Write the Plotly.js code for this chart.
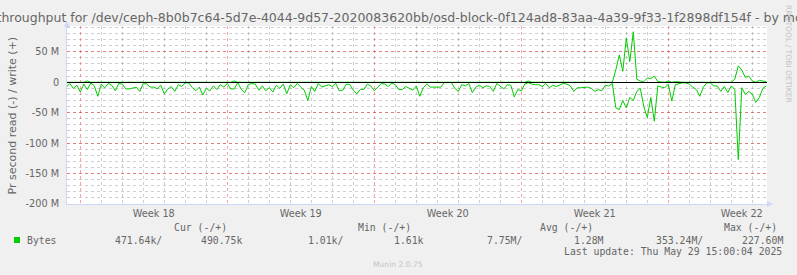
<!DOCTYPE html>
<html><head><meta charset="utf-8">
<script src="https://cdn.plot.ly/plotly-3.0.1.min.js"></script>
<style>html,body{margin:0;padding:0;background:#f0f0f0;}#chart{width:797px;height:275px;}</style>
</head><body><div id="chart"></div>
<script>
// ---- data (values in M bytes / second) ----
const startTime = Date.UTC(2025, 3, 26, 8, 0, 0);   // first sample
const stepHours = 4;
const readM = [
  8,2,10,5,16,3,12,1,6,23,
  3,9,2,5,14,2,3,11,11,9,
  8,15,2,3,8,8,11,5,19,11,
  7,15,4,7,1,1,9,14,8,21,
  10,14,6,12,4,8,2,11,11,0.5,
  12,17,4,2,3,13,6,14,9,16,
  5,10,3,19,4,9,2,8,
  13,30,7,15,2,8,6,4,7,2,
  14,13,3,4,13,19,12,12,3,6,
  14,8,2,3,7,1,4,12,12,7,
  10,13,6,23,9,3,8,8,8,8,
  0.5,0.5,0.5,10,15,4,6,2,17,8,
  5,9,6,7,15,2,6,11,4,5,
  24,12,14,3,0.5,3,
  4,4,7,2,9,5,7,4,2,3,
  6,15,9,9,9,8,10,15,12,14,
  5,6,2,42,45,30,42,25,30,15,
  10,40,58,25,64,6,8,9,3,31,
  4,2,1,1,3,8,12,23,8,1,
  1,6,6,15,7,17,6,12,127,9,
  20,15,20,33,25,10,6
];
const writeM = [
  0,0,0,0,0,0,2,0,0,0,
  0,0,0,0,0,0,0,0,0,0,
  0,0,0,0,0,0,0,0,0,0,
  0,0,0,0,0,0,0,0,0,0,
  0,0,0,0,0,0,0,0,2,0,
  0,0,0,0,0,0,0,0,0,0,
  0,0,0,0,0,0,0,0,
  0,0,0,0,0,0,0,0,0,0,
  0,0,0,0,0,0,0,0,0,0,
  0,0,0,0,0,0,0,0,0,0,
  0,0,0,0,0,0,0,0,0,0,
  0,0,0,0,0,0,0,0,0,0,
  0,0,0,0,0,0,0,0,0,0,
  0,0,0,0,2,0,
  0,0,0,0,0,0,0,0,0,0,
  0,0,0,0,0,0,0,0,0,0,
  0,0,0,20,45,18,73,34,83,5,
  2,1,7,6,10,1,0,0,2,0,
  1,0,0,0,0,0,0,0,0,0,
  0,0,0,0,0,0,0,5,27,20,
  8,10,2,0,3,2,1
];
const yTickVals = [50, 0, -50, -100, -150, -200];
const yTickText = ['50 M', '0', '-50 M', '-100 M', '-150 M', '-200 M'];
const weekMid = ['2025-04-30 12:00', '2025-05-07 12:00', '2025-05-14 12:00', '2025-05-21 12:00', '2025-05-28 12:00'];
const weekLabels = ['Week 18', 'Week 19', 'Week 20', 'Week 21', 'Week 22'];
const seriesName = 'Bytes';
const legendHead = ['Cur (-/+)', 'Min (-/+)', 'Avg (-/+)', 'Max (-/+)'];
const legendRead = ['471.64k/', '1.01k/', '7.75M/', '353.24M/'];
const legendWrite = ['490.75k', '1.61k', '1.28M', '227.60M'];
const lastUpdate = 'Last update: Thu May 29 15:00:04 2025';
const titleText = 'Disk throughput for /dev/ceph-8b0b7c64-5d7e-4044-9d57-2020083620bb/osd-block-0f124ad8-83aa-4a39-9f33-1f2898df154f - by month';
const yTitle = 'Pr second read (-) / write (+)';

// ---- derived ----
function iso(ms){ return new Date(ms).toISOString().slice(0,16).replace('T',' '); }
const times = readM.map((_, i) => iso(startTime + i*stepHours*3600000));
const readNeg = readM.map(v => -v);
const xRange = ['2025-04-26 08:48', '2025-05-29 16:48'];

// ---- layout geometry (pixels) ----
const L = 67, T = 26, W = 700, H = 178, FW = 797, FH = 275;
const px = x => (x - L) / W;
const py = y => (T + H - y) / H;

const GREEN = '#00cc00';
const FONT = '#666666';
const MONO = 'DejaVu Sans Mono';
const SANS = 'DejaVu Sans';
const redGrid = 'rgba(255,0,0,0.38)';
const grayGrid = 'rgba(128,128,128,0.38)';

const traces = [
  {x: times, y: readNeg, xaxis: 'x2', yaxis: 'y', type: 'scatter', mode: 'lines', line: {color: GREEN, width: 1}, hoverinfo: 'skip'},
  {x: times, y: writeM, xaxis: 'x', yaxis: 'y', type: 'scatter', mode: 'lines', line: {color: GREEN, width: 1}, hoverinfo: 'skip'}
];

const ann = [];
function txt(text, x, y, opts) {
  ann.push(Object.assign({text: text, x: px(x), y: py(y), xref: 'paper', yref: 'paper',
    showarrow: false, xanchor: 'left', yanchor: 'middle', borderpad: 0,
    font: {family: MONO, size: 9.8, color: FONT}}, opts || {}));
}
txt(yTitle, 11.5, 116, {xanchor: 'center', textangle: -90, font: {family: SANS, size: 11, color: FONT}});
txt(seriesName, 26, 240);
const headX = [173, 357, 539, 723];
const readX = [114, 307, 486, 655];
const writeX = [200, 393, 573, 741];
legendHead.forEach((t, k) => txt(t, headX[k], 227.3));
legendRead.forEach((t, k) => txt(t, readX[k], 240));
legendWrite.forEach((t, k) => txt(t, writeX[k], 240));
txt(lastUpdate, 783, 251.7, {xanchor: 'right'});
txt('Munin 2.0.75', 398, 264, {xanchor: 'center', font: {family: SANS, size: 7.6, color: '#c4c4c4'}});
txt('RRDTOOL / TOBI OETIKER', 789, 54, {xanchor: 'center', textangle: 90, font: {family: SANS, size: 7.6, color: '#c4c4c4'}});

const shapes = [
  {type: 'rect', xref: 'paper', yref: 'paper', x0: px(14), x1: px(20), y0: py(243), y1: py(237), fillcolor: GREEN, line: {width: 0}},
  {type: 'path', xref: 'paper', yref: 'paper', fillcolor: '#CFD6F8', line: {width: 0},
   path: `M ${px(64)} ${py(27)} L ${px(70)} ${py(27)} L ${px(67)} ${py(21)} Z`},
  {type: 'path', xref: 'paper', yref: 'paper', fillcolor: '#CFD6F8', line: {width: 0},
   path: `M ${px(767)} ${py(201)} L ${px(767)} ${py(207)} L ${px(773)} ${py(204)} Z`}
];

const layout = {
  width: FW, height: FH,
  margin: {l: L, r: FW - L - W, t: T, b: FH - T - H, pad: 0},
  paper_bgcolor: '#f0f0f0', plot_bgcolor: '#ffffff',
  showlegend: false,
  font: {family: SANS, size: 9.7, color: FONT},
  title: {text: titleText, x: 394.5 / FW, xref: 'container', xanchor: 'center',
          y: 1 - 18/FH, yref: 'container', yanchor: 'middle',
          font: {family: SANS, size: 12.5, color: FONT}},
  xaxis: {type: 'date', range: xRange, tickmode: 'array', tickvals: weekMid, ticktext: weekLabels,
          showgrid: false, zeroline: false, showline: true, linecolor: '#CFD6F8', linewidth: 1,
          ticks: '', fixedrange: true, tickfont: {family: SANS, size: 9.7, color: FONT}},
  xaxis2: {type: 'date', range: xRange, overlaying: 'x', anchor: 'y', side: 'bottom',
           tickmode: 'linear', tick0: '2025-04-27', dtick: 604800000,
           showticklabels: false, ticks: '', showline: false, zeroline: false, fixedrange: true,
           showgrid: true, gridcolor: redGrid, gridwidth: 1, griddash: 'dot',
           minor: {tickmode: 'linear', tick0: '2025-04-27', dtick: 86400000, ticks: '',
                   showgrid: true, gridcolor: grayGrid, gridwidth: 1, griddash: 'dot'}},
  yaxis: {range: [-200, 92.4], tickmode: 'array', tickvals: yTickVals, ticktext: yTickText,
          showgrid: true, gridcolor: redGrid, gridwidth: 1, griddash: 'dot',
          minor: {tickmode: 'linear', tick0: 0, dtick: 10, ticks: '',
                  showgrid: true, gridcolor: grayGrid, gridwidth: 1, griddash: 'dot'},
          zeroline: true, zerolinecolor: '#000000', zerolinewidth: 1, zerolinelayer: 'above traces',
          showline: true, linecolor: '#CFD6F8', linewidth: 1, ticks: '', ticklabelstandoff: 5,
          fixedrange: true, tickfont: {family: SANS, size: 9.7, color: FONT}},
  annotations: ann,
  shapes: shapes
};

Plotly.newPlot('chart', traces, layout, {staticPlot: true, displayModeBar: false});
</script>
</body></html>
